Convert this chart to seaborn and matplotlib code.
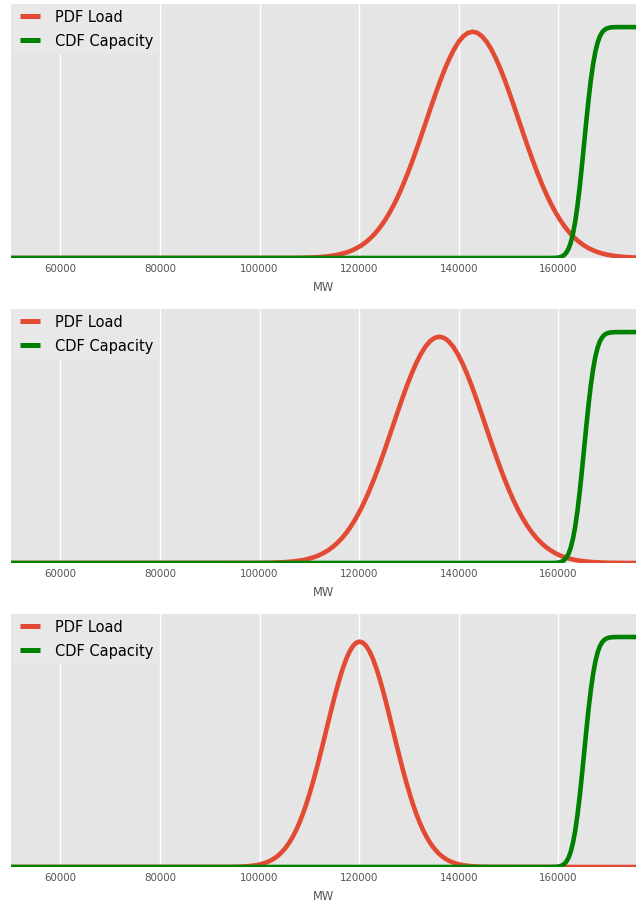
import matplotlib
matplotlib.use("Agg")
import matplotlib.pyplot as plt
from matplotlib.legend_handler import HandlerLine2D
from matplotlib.lines import Line2D
import seaborn as sns
import pandas as pd

# ---------------- data ----------------
XTICKS = [60000, 80000, 100000, 120000, 140000, 160000]
XLIM = (50000, 175600)
SERIES_LABELS = ["PDF Load", "CDF Capacity"]

# Panel 1 load PDF: peak near 142800 MW (scaled so peak = 0.98)
LOAD1_MW = [50000,
            105600, 106530, 107460, 108390, 109320, 110250, 111180, 112110, 113040, 113970,
            114900, 115830, 116760, 117690, 118620, 119550, 120480, 121410, 122340, 123270,
            124200, 125130, 126060, 126990, 127920, 128850, 129780, 130710, 131640, 132570,
            133500, 134430, 135360, 136290, 137220, 138150, 139080, 140010, 140940, 141870,
            142800,
            143730, 144660, 145590, 146520, 147450, 148380, 149310, 150240, 151170, 152100,
            153030, 153960, 154890, 155820, 156750, 157680, 158610, 159540, 160470, 161400,
            162330, 163260, 164190, 165120, 166050, 166980, 167910, 168840, 169770, 170700,
            171630, 172560, 173490, 174420, 175350, 176280]
LOAD1_PDF = [0.0,
             0.0003, 0.0005, 0.0007, 0.0010, 0.0015, 0.0021, 0.0030, 0.0042, 0.0059, 0.0080,
             0.0109, 0.0146, 0.0194, 0.0256, 0.0333, 0.0431, 0.0550, 0.0696, 0.0871, 0.1080,
             0.1326, 0.1612, 0.1939, 0.2310, 0.2724, 0.3182, 0.3678, 0.4210, 0.4771, 0.5351,
             0.5944, 0.6536, 0.7116, 0.7671, 0.8186, 0.8648, 0.9046, 0.9369, 0.9606, 0.9751,
             0.9800,
             0.9751, 0.9606, 0.9369, 0.9046, 0.8648, 0.8186, 0.7671, 0.7116, 0.6536, 0.5944,
             0.5351, 0.4771, 0.4210, 0.3678, 0.3182, 0.2724, 0.2310, 0.1939, 0.1612, 0.1326,
             0.1080, 0.0871, 0.0696, 0.0550, 0.0431, 0.0333, 0.0256, 0.0194, 0.0146, 0.0109,
             0.0080, 0.0059, 0.0042, 0.0030, 0.0021, 0.0015]

# Panel 2 load PDF: peak near 136100 MW
LOAD2_MW = [50000,
            98900, 99830, 100760, 101690, 102620, 103550, 104480, 105410, 106340, 107270,
            108200, 109130, 110060, 110990, 111920, 112850, 113780, 114710, 115640, 116570,
            117500, 118430, 119360, 120290, 121220, 122150, 123080, 124010, 124940, 125870,
            126800, 127730, 128660, 129590, 130520, 131450, 132380, 133310, 134240, 135170,
            136100,
            137030, 137960, 138890, 139820, 140750, 141680, 142610, 143540, 144470, 145400,
            146330, 147260, 148190, 149120, 150050, 150980, 151910, 152840, 153770, 154700,
            155630, 156560, 157490, 158420, 159350, 160280, 161210, 162140, 163070, 164000,
            164930, 165860, 166790, 167720, 168650, 169580, 170510, 171440, 172370, 173300,
            176000]
LOAD2_PDF = [0.0,
             0.0003, 0.0005, 0.0007, 0.0010, 0.0015, 0.0021, 0.0030, 0.0042, 0.0059, 0.0080,
             0.0109, 0.0146, 0.0194, 0.0256, 0.0333, 0.0431, 0.0550, 0.0696, 0.0871, 0.1080,
             0.1326, 0.1612, 0.1939, 0.2310, 0.2724, 0.3182, 0.3678, 0.4210, 0.4771, 0.5351,
             0.5944, 0.6536, 0.7116, 0.7671, 0.8186, 0.8648, 0.9046, 0.9369, 0.9606, 0.9751,
             0.9800,
             0.9751, 0.9606, 0.9369, 0.9046, 0.8648, 0.8186, 0.7671, 0.7116, 0.6536, 0.5944,
             0.5351, 0.4771, 0.4210, 0.3678, 0.3182, 0.2724, 0.2310, 0.1939, 0.1612, 0.1326,
             0.1080, 0.0871, 0.0696, 0.0550, 0.0431, 0.0333, 0.0256, 0.0194, 0.0146, 0.0109,
             0.0080, 0.0059, 0.0042, 0.0030, 0.0021, 0.0015, 0.0010, 0.0007, 0.0005, 0.0003,
             0.0001]

# Panel 3 load PDF: peak near 120100 MW
LOAD3_MW = [50000,
            93300, 93970, 94640, 95310, 95980, 96650, 97320, 97990, 98660, 99330,
            100000, 100670, 101340, 102010, 102680, 103350, 104020, 104690, 105360, 106030,
            106700, 107370, 108040, 108710, 109380, 110050, 110720, 111390, 112060, 112730,
            113400, 114070, 114740, 115410, 116080, 116750, 117420, 118090, 118760, 119430,
            120100,
            120770, 121440, 122110, 122780, 123450, 124120, 124790, 125460, 126130, 126800,
            127470, 128140, 128810, 129480, 130150, 130820, 131490, 132160, 132830, 133500,
            134170, 134840, 135510, 136180, 136850, 137520, 138190, 138860, 139530, 140200,
            140870, 141540, 142210, 142880, 143550, 144220, 144890, 145560, 146230, 146900,
            176000]
LOAD3_PDF = [0.0,
             0.0003, 0.0005, 0.0007, 0.0010, 0.0015, 0.0021, 0.0030, 0.0042, 0.0059, 0.0080,
             0.0109, 0.0146, 0.0194, 0.0256, 0.0333, 0.0431, 0.0550, 0.0696, 0.0871, 0.1080,
             0.1326, 0.1612, 0.1939, 0.2310, 0.2724, 0.3182, 0.3678, 0.4210, 0.4771, 0.5351,
             0.5944, 0.6536, 0.7116, 0.7671, 0.8186, 0.8648, 0.9046, 0.9369, 0.9606, 0.9751,
             0.9800,
             0.9751, 0.9606, 0.9369, 0.9046, 0.8648, 0.8186, 0.7671, 0.7116, 0.6536, 0.5944,
             0.5351, 0.4771, 0.4210, 0.3678, 0.3182, 0.2724, 0.2310, 0.1939, 0.1612, 0.1326,
             0.1080, 0.0871, 0.0696, 0.0550, 0.0431, 0.0333, 0.0256, 0.0194, 0.0146, 0.0109,
             0.0080, 0.0059, 0.0042, 0.0030, 0.0021, 0.0015, 0.0010, 0.0007, 0.0005, 0.0003,
             0.0]

# Capacity CDF (same in all panels), midpoint near 165200 MW
CAP_MW = [50000,
          158000, 158450, 158900, 159350, 159800, 160250, 160700, 161150, 161600, 162050,
          162500, 162950, 163400, 163850, 164300, 164750, 165200, 165650, 166100, 166550,
          167000, 167450, 167900, 168350, 168800, 169250, 169700, 170150, 170600, 171050,
          171500, 171950, 172400,
          176000]
CAP_CDF = [0.0,
           0.00003, 0.00009, 0.00023, 0.00058, 0.00135, 0.00298, 0.00621, 0.01222, 0.02275,
           0.04006, 0.06681, 0.10565, 0.15866, 0.22663, 0.30854, 0.40129, 0.5, 0.59871,
           0.69146, 0.77337, 0.84134, 0.89435, 0.93319, 0.95994, 0.97725, 0.98778, 0.99379,
           0.99702, 0.99865, 0.99942, 0.99977, 0.99991, 0.99997,
           1.0]

PANELS = [(LOAD1_MW, LOAD1_PDF), (LOAD2_MW, LOAD2_PDF), (LOAD3_MW, LOAD3_PDF)]

# ---------------- styling ----------------
plt.style.use("ggplot")
RED = "#E24A33"
GREEN = "#008000"

W, H = 636, 904
fig = plt.figure(figsize=(W / 100, H / 100), dpi=100)

panel_px = [(5, 259), (310, 564), (615, 868)]  # (top, bottom) in pixels
left_px = 10.5

for (top, bottom), (lx, ly) in zip(panel_px, PANELS):
    ax = fig.add_axes([left_px / W, 1 - bottom / H, 1 - left_px / W, (bottom - top) / H])
    ax.set_facecolor("#E5E5E5")
    load_df = pd.DataFrame({"MW": lx, "value": ly})
    cap_df = pd.DataFrame({"MW": CAP_MW, "value": CAP_CDF})
    sns.lineplot(data=load_df, x="MW", y="value", ax=ax, color=RED, linewidth=3.3,
                 label=SERIES_LABELS[0], estimator=None)
    sns.lineplot(data=cap_df, x="MW", y="value", ax=ax, color=GREEN, linewidth=3.3,
                 label=SERIES_LABELS[1], estimator=None)
    ax.set_xlim(*XLIM)
    ax.set_ylim(0, 1.1)
    ax.set_xticks(XTICKS)
    ax.set_xticklabels([str(t) for t in XTICKS])
    ax.set_yticks([])
    ax.set_ylabel("")
    ax.grid(True, axis="x", color="white", linewidth=1.0)
    ax.grid(False, axis="y")
    ax.tick_params(axis="x", length=0, pad=3.5, labelsize=7.4, colors="#555555")
    ax.set_xlabel("MW", fontsize=8.3, color="#555555", labelpad=5)
    for s in ax.spines.values():
        s.set_visible(False)
    leg = ax.legend(loc="upper left", bbox_to_anchor=(0, 1), borderaxespad=0,
                    fontsize=10.5, handlelength=1.69, handletextpad=1.03,
                    borderpad=0.36, labelspacing=0.62, frameon=True, fancybox=False,
                    handler_map={Line2D: HandlerLine2D(xpad=0.32)})
    leg.get_frame().set_facecolor("#E8E8E8")
    leg.get_frame().set_edgecolor("none")
    leg.get_frame().set_alpha(1.0)
    for line in leg.get_lines():
        line.set_linewidth(3.6)
        line.set_solid_capstyle("butt")
    for txt in leg.get_texts():
        txt.set_color("black")

fig.savefig("out.png", dpi=100)
